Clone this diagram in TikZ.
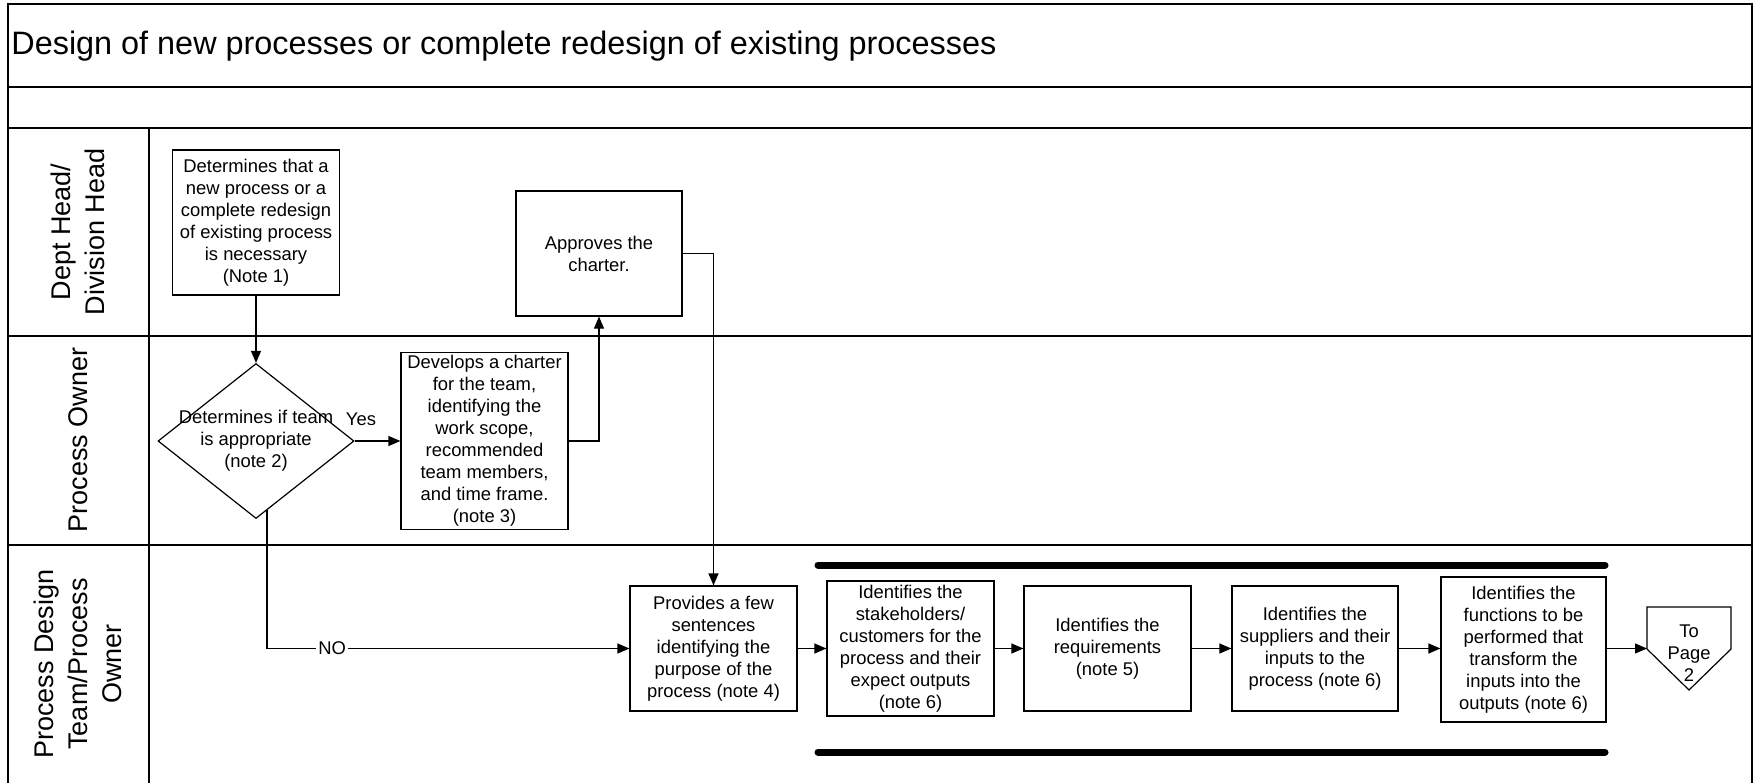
\documentclass[tikz,border=0pt]{standalone}
\usepackage{fontspec}
\setmainfont{Liberation Sans}
\usetikzlibrary{shapes.geometric,arrows.meta}

\tikzset{
  box/.style={draw, line width=0.6pt, align=center, inner sep=0pt, minimum width=83.5pt, minimum height=62.5pt, font=\fontsize{9.2}{11}\selectfont},
  txt/.style={align=center, inner sep=0pt, font=\fontsize{9.2}{11}\selectfont},
  lane/.style={rotate=90, align=center, font=\fontsize{13.5}{17}\selectfont},
  arr/.style={-{Triangle[length=6pt,width=5pt]}, line width=0.6pt},
  bar/.style={line width=3.5pt, line cap=round}
}

\begin{document}
\begin{tikzpicture}[x=0.5pt, y=-0.5pt]
\useasboundingbox (0,0) rectangle (1758,783);

% frame and swim lanes
\draw[line width=0.7pt] (8,783) -- (8,4) -- (1752,4) -- (1752,783);
\draw[line width=0.7pt] (8,87) -- (1752,87) (8,128) -- (1752,128) (8,336) -- (1752,336) (8,545) -- (1752,545);
\draw[line width=0.7pt] (149,128) -- (149,783);

\node[anchor=west, inner sep=0pt, font=\fontsize{16.2}{19}\selectfont] (title) at (11,46) {Design of new processes or complete redesign of existing processes};

\node[lane] (deptlane) at (78,232) {Dept Head/\\Division Head};
\node[lane] (ownerlane) at (78,440) {Process Owner};
\node[lane] (teamlane) at (78,664) {Process Design\\Team/Process\\Owner};

% steps
\node[box, minimum height=72.5pt] (need) at (256,222.5) {Determines that a\\new process or a\\complete redesign\\of existing process\\is necessary\\(Note 1)};
\node[draw, diamond, line width=0.6pt, inner sep=0pt, minimum width=98pt, minimum height=77.5pt] (teamq) at (256,441) {};
\node[txt] (teamqtxt) at (teamq.center) {Determines if team\\is appropriate\\(note 2)};
\node[box, minimum height=88.5pt] (charter) at (484.5,441) {Develops a charter\\for the team,\\identifying the\\work scope,\\recommended\\team members,\\and time frame.\\(note 3)};
\node[box, minimum width=83pt] (approve) at (599,253.5) {Approves the\\charter.};
\node[box] (provides) at (713.5,648.5) {Provides a few\\sentences\\identifying the\\purpose of the\\process (note 4)};
\node[box, minimum height=67.5pt] (stake) at (910.5,648.5) {Identifies the\\stakeholders/\\customers for the\\process and their\\expect outputs\\(note 6)};
\node[box] (req) at (1107.5,648.5) {Identifies the\\requirements\\(note 5)};
\node[box, minimum width=83pt] (supp) at (1315,648.5) {Identifies the\\suppliers and their\\inputs to the\\process (note 6)};
\node[box, minimum width=82.5pt, minimum height=72.5pt] (func) at (1523.5,649.5) {Identifies the\\functions to be\\performed that\\transform the\\inputs into the\\outputs (note 6)};

% off-page connector
\draw[line width=0.6pt] (1647,607) -- (1731,607) -- (1731,649) -- (1689,690) -- (1647,649) -- cycle;
\node[txt] (page2) at (1689,653) {To\\Page\\2};
\coordinate (p2in) at (1647,648.5);

\draw[bar] (818,565) -- (1605,565);
\draw[bar] (818,752) -- (1605,752);

% flow
\draw[arr] (need) -- (teamq);
\draw[arr] (teamq.east) -- (charter.west);
\node[txt] (yes) at (361,419) {Yes};
\draw[arr] (charter.east) -| (approve.south);
\draw[arr] (approve.east) -| (provides.north);
\draw[arr] (teamq.-81) |- node[pos=0.59, fill=white, inner sep=1pt, font=\fontsize{9.2}{11}\selectfont] (no) {NO} (provides.west);
\draw[arr] (provides) -- (stake);
\draw[arr] (stake) -- (req);
\draw[arr] (req) -- (supp);
\draw[arr] (supp.east) -- (supp.east -| func.west);
\draw[arr] (func.east |- p2in) -- (p2in);
\end{tikzpicture}
\end{document}
